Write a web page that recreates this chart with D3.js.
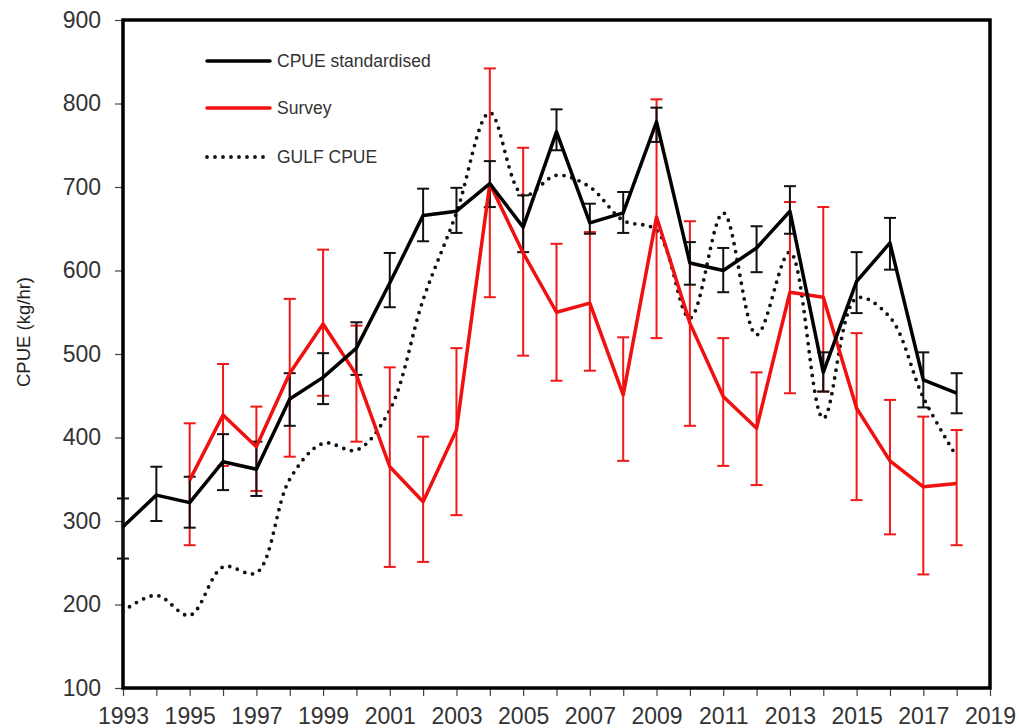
<!DOCTYPE html>
<html>
<head>
<meta charset="utf-8">
<script src="https://cdn.jsdelivr.net/npm/d3@7"></script>
<style>
  body { margin: 0; background: #fff; }
  text { font-family: "Liberation Sans", Arial, sans-serif; }
</style>
</head>
<body>
<div id="chart"></div>
<script>
// data
var years = d3.range(1993, 2019);

var cpueStd   = [293, 331, 322, 371, 362, 446, 472, 507, 585, 666, 671, 704, 652, 766, 657, 669, 778, 609, 600, 627, 671, 478, 587, 633, 469, 453];
var cpueLow   = [255, 300, 292, 337, 330, 414, 440, 475, 556, 635, 645, 676, 622, 744, 644, 645, 754, 583, 574, 598, 644, 455, 549, 601, 436, 429];
var cpueHigh  = [327, 365, 353, 404, 395, 477, 501, 538, 621, 698, 699, 731, 690, 793, 680, 694, 795, 634, 627, 653, 701, 502, 622, 663, 502, 477];

var surveyYears = d3.range(1995, 2019);
var survey     = [349, 427, 389, 477, 536, 475, 365, 323, 409, 704, 621, 550, 561, 451, 664, 537, 449, 411, 574, 568, 435, 372, 341, 345];
var surveyLow  = [271, 366, 336, 377, 450, 395, 245, 251, 307, 568, 498, 468, 480, 372, 519, 414, 366, 343, 453, 455, 325, 284, 236, 271];
var surveyHigh = [417, 488, 437, 566, 625, 534, 484, 401, 507, 842, 747, 632, 646, 520, 805, 659, 519, 478, 682, 676, 525, 445, 425, 409];

var gulf = [192, 211, 187, 245, 238, 350, 393, 385, 433, 565, 669, 789, 690, 714, 700, 660, 648, 543, 669, 523, 622, 423, 567, 544, 448, 377];

var xTicks = d3.range(1993, 2020);
var yTicks = d3.range(100, 901, 100);

var W = 1019, H = 728;
var margin = {top: 20, right: 29, bottom: 40, left: 123};
var width = W - margin.left - margin.right,
    height = H - margin.top - margin.bottom;

var svg = d3.select("#chart").append("svg")
    .attr("width", W)
    .attr("height", H);

var g = svg.append("g")
    .attr("transform", "translate(" + margin.left + "," + margin.top + ")");

var x = d3.scaleLinear().domain([1993, 2019]).range([0, width]);
var y = d3.scaleLinear().domain([100, 900]).range([height, 0]);

// axes
var xAxis = g.append("g")
    .attr("transform", "translate(0," + height + ")")
    .call(d3.axisBottom(x)
        .tickValues(xTicks)
        .tickSize(8)
        .tickPadding(12)
        .tickFormat(function(d) { return (d - 1993) % 2 === 0 ? d : ""; }));

var yAxis = g.append("g")
    .call(d3.axisLeft(y)
        .tickValues(yTicks)
        .tickSize(8)
        .tickPadding(14)
        .tickFormat(d3.format("d")));

[xAxis, yAxis].forEach(function(a) {
  a.select(".domain").remove();
  a.selectAll(".tick line").attr("stroke", "#444").attr("stroke-width", 1.2);
  a.selectAll(".tick text")
    .attr("fill", "#333")
    .style("font-size", "23px");
});

// frame
g.append("rect")
    .attr("x", 0).attr("y", 0)
    .attr("width", width).attr("height", height)
    .attr("fill", "none")
    .attr("stroke", "#000")
    .attr("stroke-width", 3.5);

// y axis title
svg.append("text")
    .attr("transform", "translate(30,332) rotate(-90)")
    .attr("text-anchor", "middle")
    .attr("fill", "#222")
    .style("font-size", "18.5px")
    .text("CPUE (kg/hr)");

var plot = g.append("g");

// gulf CPUE, smoothed dotted
var gulfLine = d3.line()
    .x(function(d, i) { return x(years[i]); })
    .y(function(d) { return y(d); })
    .curve(d3.curveCatmullRom.alpha(0.5));

plot.append("path")
    .attr("d", gulfLine(gulf))
    .attr("fill", "none")
    .attr("stroke", "#111")
    .attr("stroke-width", 3.8)
    .attr("stroke-linecap", "round")
    .attr("stroke-dasharray", "0 8");

// error bars
function errorBars(xs, lo, hi, color, w) {
  var eb = plot.append("g").attr("stroke", color).attr("stroke-width", w);
  xs.forEach(function(yr, i) {
    eb.append("line")
      .attr("x1", x(yr)).attr("x2", x(yr))
      .attr("y1", y(lo[i])).attr("y2", y(hi[i]));
    [lo[i], hi[i]].forEach(function(v) {
      eb.append("line")
        .attr("x1", x(yr) - 6).attr("x2", x(yr) + 6)
        .attr("y1", y(v)).attr("y2", y(v));
    });
  });
}

errorBars(surveyYears, surveyLow, surveyHigh, "#f01818", 2);
errorBars(years, cpueLow, cpueHigh, "#111", 2);

var straight = function(xs) {
  return d3.line()
    .x(function(d, i) { return x(xs[i]); })
    .y(function(d) { return y(d); });
};

plot.append("path")
    .attr("d", straight(surveyYears)(survey))
    .attr("fill", "none")
    .attr("stroke", "#f01010")
    .attr("stroke-width", 3.5)
    .attr("stroke-linejoin", "round");

plot.append("path")
    .attr("d", straight(years)(cpueStd))
    .attr("fill", "none")
    .attr("stroke", "#000")
    .attr("stroke-width", 3.5)
    .attr("stroke-linejoin", "round");

// legend
var legendItems = [
  {label: "CPUE standardised", color: "#000", dash: null, yv: 61},
  {label: "Survey", color: "#f01010", dash: null, yv: 108},
  {label: "GULF CPUE", color: "#111", dash: "0 8", yv: 157}
];

var legend = svg.append("g");
legendItems.forEach(function(d) {
  var l = legend.append("line")
    .attr("x1", 207).attr("x2", 270)
    .attr("y1", d.yv).attr("y2", d.yv)
    .attr("stroke", d.color)
    .attr("stroke-width", d.dash ? 3.8 : 3.5)
    .attr("stroke-linecap", "round");
  if (d.dash) l.attr("stroke-dasharray", d.dash);
  legend.append("text")
    .attr("x", 277).attr("y", d.yv + 6)
    .attr("fill", "#333")
    .style("font-size", "17.5px")
    .text(d.label);
});
</script>
</body>
</html>
